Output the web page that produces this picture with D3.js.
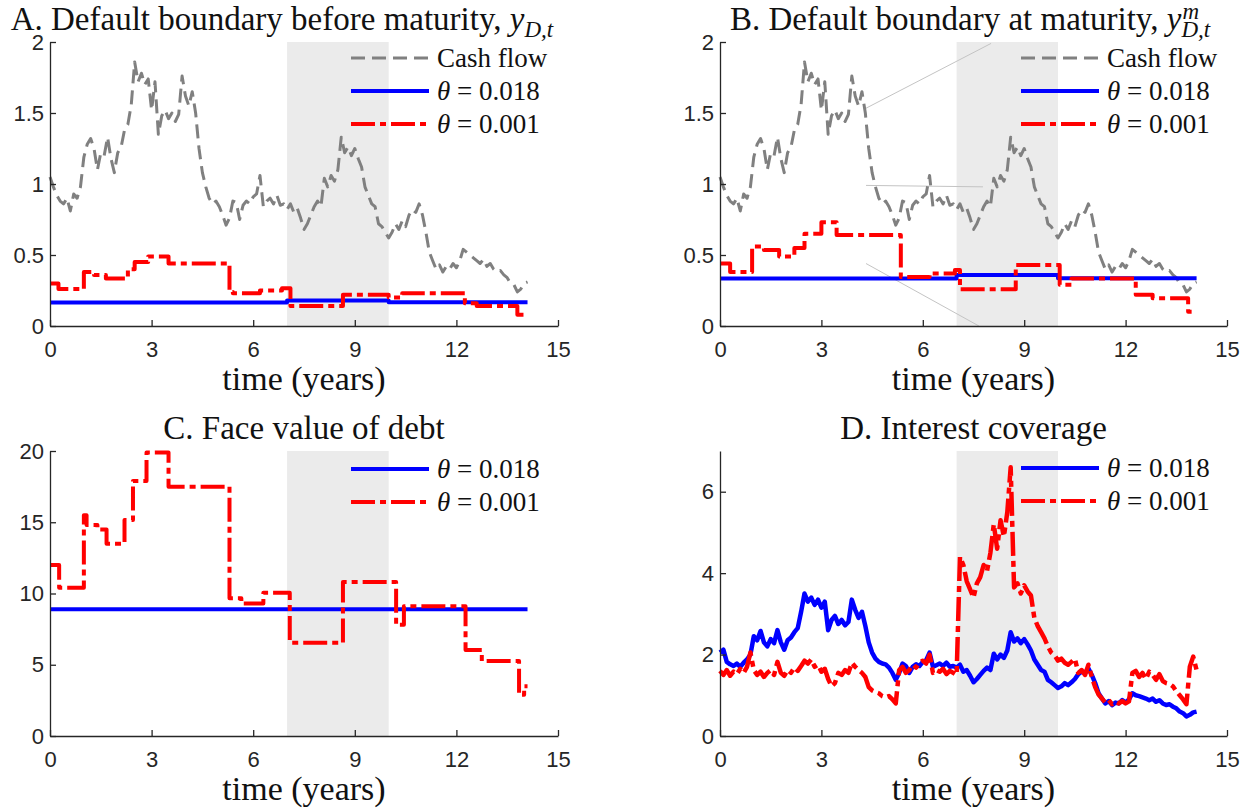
<!DOCTYPE html>
<html><head><meta charset="utf-8">
<script src="https://cdn.jsdelivr.net/npm/d3@7"></script>
<style>body{margin:0;background:#fff} svg{display:block}</style>
</head><body>
<svg id="chart" width="1251" height="812"></svg>
<script>
// ---------------- DATA ----------------
const xTicks = [0, 3, 6, 9, 12, 15];
const yTicksAB = [0, 0.5, 1, 1.5, 2];
const yTicksC = [0, 5, 10, 15, 20];
const yTicksD = [0, 2, 4, 6];
const shadeYears = [7, 10];
const endYear = 14.1;

// sampling times of the simulated paths (years)
const sampleT = d3.range(142).map(i => +(i * 0.1).toFixed(1));

// cash flow path (panels A and B)
const cashFlow = [1.05,0.98,0.92,0.88,0.86,0.90,0.81,0.93,0.90,0.98,
 1.19,1.28,1.32,1.25,1.10,1.22,1.20,1.33,1.18,1.08,
 1.22,1.26,1.38,1.42,1.56,1.86,1.72,1.78,1.70,1.74,
 1.52,1.72,1.35,1.48,1.52,1.46,1.50,1.44,1.49,1.76,
 1.62,1.55,1.65,1.50,1.25,1.08,0.98,0.90,0.86,0.88,
 0.84,0.78,0.71,0.76,0.88,0.87,0.75,0.85,0.88,0.86,
 0.91,0.93,1.06,0.84,0.88,0.90,0.86,0.92,0.85,0.86,
 0.82,0.86,0.80,0.83,0.76,0.68,0.72,0.78,0.84,0.88,
 0.84,1.04,0.98,1.06,1.02,1.10,1.33,1.22,1.26,1.20,
 1.25,1.18,1.12,0.98,0.92,0.86,0.84,0.72,0.70,0.66,
 0.62,0.66,0.72,0.68,0.74,0.70,0.78,0.82,0.80,0.86,
 0.78,0.66,0.52,0.46,0.40,0.43,0.38,0.42,0.40,0.44,
 0.41,0.46,0.54,0.52,0.50,0.48,0.46,0.44,0.47,0.42,
 0.44,0.40,0.38,0.39,0.36,0.34,0.30,0.29,0.24,0.26,
 0.30,0.31];

// Panel A: default boundary before maturity (step changes at these times)
const aBlueT = [0, 7.0, 10.0];
const aBlueV = [0.165, 0.18, 0.167];
const aRedT = [0,0.25,1.0,1.3,1.65,2.3,2.5,2.9,3.5,5.3,5.4,6.2,6.85,7.1,8.65,10.0,10.4,12.25,12.6,13.8];
const aRedV = [0.30,0.26,0.38,0.36,0.335,0.40,0.45,0.49,0.44,0.24,0.23,0.25,0.265,0.14,0.22,0.20,0.23,0.16,0.14,0.08];

// Panel B: default boundary at maturity
const bBlueT = [0, 7.0, 10.0];
const bBlueV = [0.335, 0.36, 0.337];
const bRedT = [0,0.3,0.95,1.3,1.75,2.2,2.5,3.0,3.45,5.35,6.2,6.95,7.1,8.75,10.05,10.4,12.3,12.8,13.85];
const bRedV = [0.44,0.38,0.56,0.535,0.49,0.55,0.65,0.73,0.64,0.345,0.37,0.395,0.258,0.43,0.29,0.335,0.22,0.195,0.10];

// Panel C: face value of debt
const cBlueT = [0];
const cBlueV = [8.9];
const cRedT = [0,0.27,1.0,1.08,1.4,1.67,2.2,2.45,2.85,3.5,5.3,5.65,6.3,7.08,8.65,10.22,10.45,12.27,12.75,13.85,14.0];
const cRedV = [12.0,10.4,15.5,14.8,14.5,13.5,15.15,17.9,19.9,17.5,9.66,9.3,10.05,6.55,10.8,7.8,9.1,6.04,5.26,2.9,3.5];

// Panel D: interest coverage
const dBlue = [2.05,2.12,1.82,1.76,1.72,1.78,1.70,1.80,1.88,2.00,
 2.45,2.35,2.58,2.30,2.20,2.38,2.28,2.60,2.30,2.12,
 2.35,2.42,2.55,2.65,3.05,3.50,3.30,3.40,3.22,3.35,
 3.15,3.30,2.60,2.85,2.95,2.75,2.85,2.72,2.80,3.35,
 3.10,2.90,3.05,2.70,2.30,2.05,1.90,1.82,1.78,1.76,
 1.68,1.55,1.38,1.55,1.78,1.72,1.55,1.70,1.76,1.72,
 1.82,1.86,2.05,1.70,1.74,1.78,1.72,1.80,1.70,1.72,
 1.68,1.75,1.58,1.62,1.48,1.32,1.40,1.50,1.60,1.68,
 1.62,2.02,1.88,2.00,1.92,2.10,2.55,2.32,2.40,2.28,
 2.38,2.25,2.10,1.88,1.75,1.62,1.58,1.38,1.32,1.25,
 1.18,1.22,1.30,1.25,1.32,1.40,1.52,1.58,1.55,1.66,
 1.50,1.30,1.05,0.92,0.80,0.86,0.76,0.82,0.80,0.88,
 0.82,0.90,1.05,1.00,0.98,0.95,0.92,0.88,0.92,0.84,
 0.88,0.80,0.76,0.78,0.72,0.68,0.60,0.56,0.48,0.52,
 0.58,0.60];
const dRed = [1.60,1.50,1.62,1.48,1.58,1.52,1.65,1.55,1.70,2.05,
 1.62,1.50,1.58,1.45,1.55,1.62,1.50,1.82,1.55,1.48,
 1.62,1.55,1.68,1.60,1.72,1.85,1.78,1.88,1.70,1.75,
 1.58,1.65,1.40,1.22,1.30,1.55,1.50,1.62,1.55,1.80,
 1.70,1.62,1.55,1.45,1.20,1.12,1.08,1.05,0.98,0.95,
 0.98,0.90,0.80,1.62,1.70,1.55,1.62,1.75,1.68,1.80,
 1.85,1.78,2.00,1.55,1.62,1.58,1.65,1.52,1.60,1.55,
 1.50,4.40,4.20,3.80,3.60,3.40,3.75,3.90,4.20,4.05,
 4.50,5.20,4.60,5.30,4.90,5.50,6.60,3.65,3.75,3.50,
 3.70,3.55,3.45,2.90,2.70,2.55,2.40,2.20,2.05,1.98,
 1.85,1.90,1.80,1.75,1.82,1.90,1.55,1.62,1.50,1.75,
 1.45,1.20,1.02,0.92,0.82,0.88,0.78,0.84,0.80,0.86,
 0.80,0.85,1.55,1.60,1.45,1.55,1.40,1.58,1.50,1.38,
 1.52,1.35,1.30,1.28,1.22,1.10,1.00,0.90,0.78,1.70,
 1.95,1.62];

// thin callout guide lines seen in panel B, in data coordinates [t0,v0,t1,v1]
const bGuides = [[4.29,1.53,8.02,1.99],[4.32,0.99,7.78,0.98],[4.32,0.44,7.66,0.0]];

const legendThree = ['Cash flow', '0.018', '0.001'];
const legendTwo = ['0.018', '0.001'];
const xLabel = 'time (years)';

// ---------------- DRAW ----------------
const svg = d3.select('#chart');
const SERIF = "'Liberation Serif', 'Times New Roman', serif";
const SANS = "'Liberation Sans', Arial, sans-serif";
const AX = '#262626';
const GRAY = '#808080', BLUE = '#0000ff', RED = '#ff0000';

const style = {
  gray: {stroke: GRAY, width: 3, dash: '14,7'},
  blue: {stroke: BLUE, width: 4, dash: null},
  red:  {stroke: RED,  width: 4, dash: '24,5,6,5'}
};

function stepPoints(ts, vs) {
  const pts = ts.map((t, i) => [t, vs[i]]);
  pts.push([endYear, vs[vs.length - 1]]);
  return pts;
}
function pathPoints(vs) { return sampleT.map((t, i) => [t, vs[i]]); }

function makePanel(o) {
  const x = d3.scaleLinear().domain([0, 15]).range([o.left, o.right]);
  const y = d3.scaleLinear().domain([0, o.ymax]).range([o.bottom, o.top]);
  const g = svg.append('g');

  g.append('rect')
    .attr('x', x(shadeYears[0])).attr('y', y(o.ymax))
    .attr('width', x(shadeYears[1]) - x(shadeYears[0]))
    .attr('height', y(0) - y(o.ymax))
    .attr('fill', '#ebebeb');

  const clipId = 'clip' + o.id;
  svg.append('clipPath').attr('id', clipId).append('rect')
    .attr('x', o.left - 3).attr('y', o.top - 4).attr('width', o.right - o.left + 6).attr('height', o.bottom - o.top + 8);

  const plot = g.append('g').attr('clip-path', `url(#${clipId})`);
  if (o.guides) {
    o.guides.forEach(d => {
      plot.append('line')
        .attr('x1', x(d[0])).attr('y1', y(d[1])).attr('x2', x(d[2])).attr('y2', y(d[3]))
        .attr('stroke', '#c4c4c4').attr('stroke-width', 1);
    });
  }
  o.series.forEach(s => {
    const st = style[s.kind];
    const line = d3.line().x(d => x(d[0])).y(d => y(d[1]));
    if (s.step) line.curve(d3.curveStepAfter);
    plot.append('path').datum(s.pts)
      .attr('d', line)
      .attr('fill', 'none')
      .attr('stroke', st.stroke)
      .attr('stroke-width', s.width || st.width)
      .attr('stroke-linejoin', 'round')
      .attr('stroke-dasharray', st.dash);
  });

  // axes
  const xa = g.append('g').attr('transform', `translate(0,${o.bottom})`)
    .call(d3.axisBottom(x).tickValues(xTicks).tickSizeInner(-6).tickSizeOuter(0).tickPadding(15).tickFormat(d => String(d)));
  const ya = g.append('g').attr('transform', `translate(${o.left},0)`)
    .call(d3.axisLeft(y).tickValues(o.yTicks).tickSizeInner(-6).tickSizeOuter(0).tickPadding(6).tickFormat(d => String(d)));
  [xa, ya].forEach(a => {
    a.select('.domain').attr('stroke', AX).attr('stroke-width', 1.3);
    a.selectAll('.tick line').attr('stroke', AX).attr('stroke-width', 1.3);
    a.selectAll('.tick text').attr('fill', AX).attr('font-family', SANS).attr('font-size', 22);
  });

  // x label
  g.append('text').attr('x', (o.left + o.right) / 2).attr('y', o.bottom + 64)
    .attr('text-anchor', 'middle').attr('font-family', SERIF).attr('font-size', 34).attr('fill', '#111')
    .text(xLabel);

  // title
  const baseY = o.top - 12;
  const t = g.append('text').attr('x', 0).attr('y', baseY)
    .attr('text-anchor', 'start').attr('font-family', SERIF).attr('font-size', 33).attr('fill', '#111');
  t.append('tspan').text(o.title);
  if (o.math) {
    t.append('tspan').attr('font-style', 'italic').text('y');
    t.append('tspan').attr('font-style', 'italic').attr('font-size', 23).attr('dy', 7).text('D,t');
  }
  const w = t.node().getComputedTextLength();
  const startX = o.titleAnchor === 'start' ? o.titleX : o.titleX - w / 2;
  t.attr('x', startX);
  if (o.math && o.sup) {
    const sx = t.node().getStartPositionOfChar(o.title.length + 1).x;
    t.append('tspan').attr('x', sx + 1).attr('y', baseY - 11)
      .attr('font-style', 'italic').attr('font-size', 23).text(o.sup);
  }

  // legend
  const lx0 = o.left + 301, lx1 = o.left + 379, tx = o.left + 387;
  o.legend.forEach((it, i) => {
    const ly = o.legendTop + i * 33;
    const st = style[it.kind];
    g.append('line').attr('x1', lx0).attr('x2', lx1).attr('y1', ly).attr('y2', ly)
      .attr('stroke', st.stroke).attr('stroke-width', st.width).attr('stroke-dasharray', st.dash);
    const tt = g.append('text').attr('x', tx).attr('y', ly + 9)
      .attr('font-family', SERIF).attr('font-size', 27).attr('fill', '#111');
    if (it.theta) {
      tt.append('tspan').attr('font-style', 'italic').text('θ');
      tt.append('tspan').text(' = ' + it.label);
    } else {
      tt.text(it.label);
    }
  });
}

const legAB = [
  {kind: 'gray', label: legendThree[0]},
  {kind: 'blue', label: legendThree[1], theta: true},
  {kind: 'red', label: legendThree[2], theta: true}
];
const legCD = [
  {kind: 'blue', label: legendTwo[0], theta: true},
  {kind: 'red', label: legendTwo[1], theta: true}
];

makePanel({id: 'A', left: 50, right: 558, top: 42, bottom: 326, ymax: 2, yTicks: yTicksAB,
  title: 'A. Default boundary before maturity, ', math: true, titleX: 10.7, titleAnchor: 'start',
  legend: legAB, legendTop: 58,
  series: [
    {kind: 'gray', pts: pathPoints(cashFlow)},
    {kind: 'blue', step: true, pts: stepPoints(aBlueT, aBlueV)},
    {kind: 'red', step: true, pts: stepPoints(aRedT, aRedV)}
  ]});

makePanel({id: 'B', left: 720, right: 1227, top: 42, bottom: 326, ymax: 2, yTicks: yTicksAB,
  title: 'B. Default boundary at maturity, ', math: true, sup: 'm', titleX: 970, titleAnchor: 'middle',
  legend: legAB, legendTop: 58, guides: bGuides,
  series: [
    {kind: 'gray', pts: pathPoints(cashFlow)},
    {kind: 'blue', step: true, pts: stepPoints(bBlueT, bBlueV)},
    {kind: 'red', step: true, pts: stepPoints(bRedT, bRedV)}
  ]});

makePanel({id: 'C', left: 50, right: 558, top: 451, bottom: 736, ymax: 20, yTicks: yTicksC,
  title: 'C. Face value of debt', titleX: 304, titleAnchor: 'middle',
  legend: legCD, legendTop: 469,
  series: [
    {kind: 'blue', step: true, pts: stepPoints(cBlueT, cBlueV)},
    {kind: 'red', step: true, pts: stepPoints(cRedT, cRedV)}
  ]});

makePanel({id: 'D', left: 720, right: 1227, top: 451, bottom: 736, ymax: 7, yTicks: yTicksD,
  title: 'D. Interest coverage', titleX: 973.5, titleAnchor: 'middle',
  legend: legCD, legendTop: 468,
  series: [
    {kind: 'blue', width: 4.5, pts: pathPoints(dBlue)},
    {kind: 'red', width: 4.5, pts: pathPoints(dRed)}
  ]});
</script>
</body></html>
